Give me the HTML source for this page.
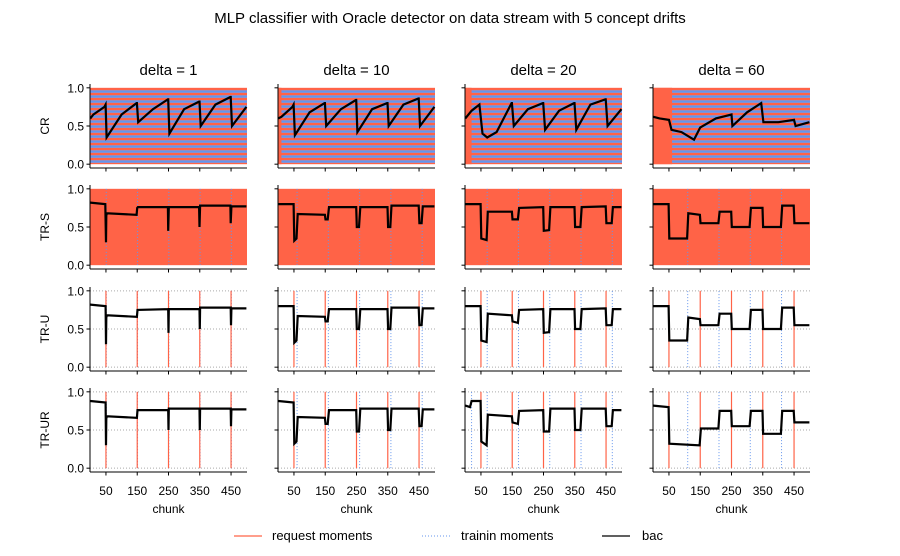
<!DOCTYPE html>
<html><head><meta charset="utf-8">
<style>
body{margin:0;background:#fff;}
svg{display:block;font-family:"Liberation Sans","DejaVu Sans",sans-serif;}
</style></head>
<body>
<svg id="chart" width="900" height="556" viewBox="0 0 900 556">
<text x="450" y="23" font-size="15" text-anchor="middle">MLP classifier with Oracle detector on data stream with 5 concept drifts</text>
</svg>
<script>
const deltas=[1,10,20,60];
const rowNames=["CR","TR-S","TR-U","TR-UR"];
const driftChunks=[50,150,250,350,450];
const xTicks=[50,150,250,350,450];
const yTicks=[0,0.5,1];
const yTickLabels=["0.0","0.5","1.0"];
// bac keypoints per panel [row][col]: chunk positions and values
const bacX=[
[[0,10,45,49,52,100,148,149,153,200,248,249,253,300,348,349,353,400,448,449,453,499],
 [0,10,45,49,53,100,148,149,153,200,248,249,253,300,348,349,353,400,448,449,453,499],
 [0,20,45,55,70,100,148,149,155,200,248,249,255,300,348,349,355,400,448,449,455,499],
 [0,20,50,58,90,130,150,200,250,253,300,345,352,400,450,455,499]],
[[0,48,50,51,53,148,150,152,248,249,251,348,349,351,448,449,451,499],
 [0,49,51,58,62,149,151,158,162,249,251,258,262,349,351,358,362,449,451,458,462,499],
 [0,49,51,68,72,149,151,168,172,249,251,268,272,349,351,368,372,449,451,468,472,499],
 [0,49,51,108,112,149,151,208,212,249,251,308,312,349,351,408,412,449,451,499]],
[[0,49,50,51,53,149,151,249,250,251,349,350,351,449,450,451,499],
 [0,49,51,58,62,149,151,158,162,249,251,258,262,349,351,358,362,449,451,458,462,499],
 [0,49,51,68,72,149,151,168,172,249,251,268,272,349,351,368,372,449,451,468,472,499],
 [0,49,51,108,112,149,151,208,212,249,251,308,312,349,351,408,412,449,451,499]],
[[0,49,50,51,53,149,151,249,250,251,349,350,351,449,450,451,499],
 [0,49,51,58,62,149,151,158,162,249,251,258,262,349,351,358,362,449,451,458,462,499],
 [0,15,20,49,51,68,72,149,151,168,172,249,251,268,272,349,351,368,372,449,451,468,472,499],
 [0,49,51,148,152,208,212,249,251,308,312,349,351,408,412,449,451,499]]
];
const bacY=[
[[0.6,0.65,0.75,0.78,0.35,0.65,0.8,0.8,0.55,0.72,0.85,0.85,0.4,0.72,0.82,0.82,0.5,0.78,0.88,0.88,0.5,0.75],
 [0.6,0.62,0.75,0.78,0.38,0.68,0.8,0.8,0.5,0.72,0.84,0.84,0.42,0.72,0.8,0.8,0.5,0.78,0.86,0.86,0.5,0.75],
 [0.6,0.7,0.78,0.4,0.35,0.42,0.8,0.8,0.5,0.72,0.8,0.8,0.45,0.7,0.8,0.8,0.45,0.78,0.85,0.85,0.5,0.72],
 [0.62,0.6,0.58,0.45,0.42,0.32,0.48,0.6,0.65,0.5,0.68,0.8,0.55,0.55,0.58,0.5,0.55]],
[[0.82,0.8,0.3,0.65,0.68,0.66,0.75,0.76,0.76,0.45,0.76,0.76,0.5,0.78,0.78,0.55,0.77,0.77],
 [0.8,0.8,0.32,0.35,0.67,0.66,0.6,0.6,0.76,0.76,0.5,0.5,0.76,0.76,0.5,0.5,0.78,0.78,0.55,0.55,0.77,0.77],
 [0.8,0.8,0.35,0.33,0.7,0.7,0.6,0.6,0.75,0.76,0.45,0.46,0.76,0.76,0.5,0.5,0.76,0.77,0.55,0.55,0.76,0.76],
 [0.8,0.8,0.35,0.35,0.68,0.66,0.55,0.55,0.7,0.7,0.5,0.5,0.75,0.75,0.5,0.5,0.78,0.78,0.55,0.55]],
[[0.82,0.8,0.3,0.65,0.68,0.66,0.75,0.76,0.45,0.76,0.76,0.5,0.78,0.78,0.55,0.77,0.77],
 [0.8,0.8,0.32,0.35,0.67,0.66,0.6,0.6,0.76,0.76,0.5,0.5,0.76,0.76,0.5,0.5,0.78,0.78,0.55,0.55,0.77,0.77],
 [0.8,0.8,0.35,0.33,0.7,0.68,0.6,0.58,0.75,0.76,0.45,0.46,0.76,0.76,0.5,0.5,0.76,0.77,0.55,0.55,0.76,0.76],
 [0.8,0.8,0.35,0.35,0.65,0.63,0.55,0.55,0.7,0.7,0.5,0.5,0.75,0.75,0.5,0.5,0.78,0.78,0.55,0.55]],
[[0.88,0.86,0.3,0.65,0.68,0.66,0.76,0.76,0.5,0.78,0.78,0.5,0.78,0.78,0.55,0.77,0.77],
 [0.88,0.86,0.32,0.35,0.67,0.66,0.58,0.58,0.76,0.76,0.48,0.48,0.78,0.78,0.5,0.5,0.78,0.78,0.55,0.55,0.77,0.77],
 [0.82,0.8,0.88,0.88,0.35,0.3,0.7,0.68,0.6,0.58,0.75,0.76,0.48,0.48,0.78,0.78,0.5,0.5,0.78,0.78,0.55,0.55,0.76,0.76],
 [0.82,0.8,0.32,0.3,0.52,0.52,0.75,0.75,0.55,0.55,0.75,0.75,0.45,0.45,0.75,0.75,0.6,0.6]]
];
// extra training moments in TR-UR delta=20 panel
const extraTrain=[[],[],[20],[]];
const colLeft=[90,278,465,653], axW=157;
const rowTop=[84,185,287,388], axH=84;
const xMin=-1,xMax=501,yMin=-0.05,yMax=1.05;
const NS="http://www.w3.org/2000/svg";
const svg=document.getElementById('chart');
function mk(tag,attrs,parent){const e=document.createElementNS(NS,tag);for(const k in attrs)e.setAttribute(k,attrs[k]);(parent||svg).appendChild(e);return e;}
for(let r=0;r<4;r++){for(let c=0;c<4;c++){
 const L=colLeft[c],T=rowTop[r];
 const sx=v=>L+(v-xMin)/(xMax-xMin)*axW;
 const sy=v=>T+axH-(v-yMin)/(yMax-yMin)*axH;
 const g=mk('g',{});
 
 
 const d=deltas[c];
 if(r===0){
  const y1=sy(1),y0=sy(0);let i=0;
  for(let y=y1;y<y0;y+=2.5,i++){mk('rect',{x:sx(xMin),y:y,width:axW,height:Math.min(2.6,y0-y),fill:i%2?'#6495ed':'#ff6347'},g);}
  if(d>1){mk('rect',{x:sx(xMin),y:y1,width:sx(d)-sx(xMin),height:y0-y1,fill:'#ff6347'},g);}
 } else if(r===1){
  mk('rect',{x:sx(xMin),y:sy(1),width:axW,height:sy(0)-sy(1),fill:'#ff6347'},g);
  driftChunks.forEach(k=>{if(k+d>xMax)return;const x=sx(k+d);mk('line',{x1:x,x2:x,y1:sy(1),y2:sy(0),stroke:'#6495ed','stroke-width':1,'stroke-dasharray':'1,2'},g);});
 } else {
  yTicks.forEach(v=>mk('line',{x1:sx(xMin),x2:sx(xMax),y1:sy(v),y2:sy(v),stroke:'#aaa','stroke-width':1,'stroke-dasharray':'1,2'},g));
  const tr=driftChunks.map(k=>k+d).concat(r===3?extraTrain[c]:[]);
  tr.forEach(k=>{if(k>xMax)return;const x=sx(k);mk('line',{x1:x,x2:x,y1:sy(0),y2:sy(1),stroke:'#6495ed','stroke-width':1,'stroke-dasharray':'1,2'},g);});
  driftChunks.forEach(k=>{const x=sx(k);mk('line',{x1:x,x2:x,y1:sy(0),y2:sy(1),stroke:'#ff6347','stroke-width':1.2},g);});
 }
 const xs=bacX[r][c],ys=bacY[r][c];
 const pts=xs.map((x,i)=>sx(x).toFixed(1)+','+sy(ys[i]).toFixed(1)).join(' ');
 const pl=mk('polyline',{points:pts,fill:'none',stroke:'#000','stroke-width':2.2},g);
 
 
 // spines
 mk('line',{x1:L,x2:L,y1:T,y2:T+axH,stroke:'#000','stroke-width':1},g);
 mk('line',{x1:L,x2:L+axW,y1:T+axH,y2:T+axH,stroke:'#000','stroke-width':1},g);
 xTicks.forEach(v=>{mk('line',{x1:sx(v),x2:sx(v),y1:T+axH,y2:T+axH+3.5,stroke:'#000'},g);
  if(r===3){const t=mk('text',{x:sx(v),y:T+axH+23,'font-size':12,'text-anchor':'middle'},g);t.textContent=v;}});
 yTicks.forEach((v,i)=>{mk('line',{x1:L-3.5,x2:L,y1:sy(v),y2:sy(v),stroke:'#000'},g);
  if(c===0){const t=mk('text',{x:L-6,y:sy(v)+4.5,'font-size':12,'text-anchor':'end'},g);t.textContent=yTickLabels[i];}});
 if(r===0){const t=mk('text',{x:L+axW/2,y:75,'font-size':15,'text-anchor':'middle'},g);t.textContent='delta = '+d;}
 if(r===3){const t=mk('text',{x:L+axW/2,y:513,'font-size':12,'text-anchor':'middle'},g);t.textContent='chunk';}
 if(c===0){const cy=T+axH/2;const t=mk('text',{x:49,y:cy,'font-size':12,'text-anchor':'middle',transform:'rotate(-90 49 '+cy+')'},g);t.textContent=rowNames[r];}
}}
</script>
<svg style="position:absolute;left:0;top:0" width="900" height="556">
<g><line x1="234" x2="262" y1="536" y2="536" stroke="#ff6347" stroke-width="1.2"/><text x="272" y="540" font-size="13">request moments</text></g>
<g><line x1="422" x2="450" y1="536" y2="536" stroke="#6495ed" stroke-width="1" stroke-dasharray="1,2"/><text x="461" y="540" font-size="13">trainin moments</text></g>
<g><line x1="602" x2="630" y1="536" y2="536" stroke="#000" stroke-width="1.2"/><text x="642" y="540" font-size="13">bac</text></g>
</svg>
</body></html>
